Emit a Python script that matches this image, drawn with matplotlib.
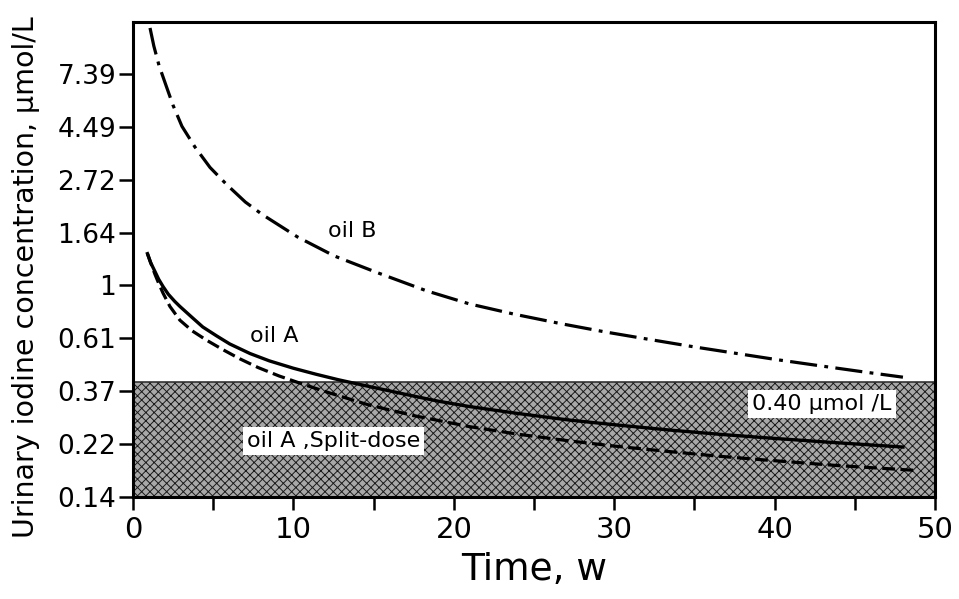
import numpy as np
import matplotlib
matplotlib.use("Agg")
import matplotlib.pyplot as plt
from matplotlib.ticker import FixedLocator, NullLocator, MultipleLocator

# ---- data ----
oilB_t = [1.06, 1.3, 1.62, 2.1, 2.49, 3.05, 3.86, 4.8, 5.85, 7.0, 8.08, 10.26,
          12.56, 15.2, 18.3, 20.96, 23.8, 26.7, 29.5, 32.2, 35.0, 37.6, 40.2,
          42.8, 45.6, 48.0]
oilB_c = [11.4, 9.6, 8.0, 6.5, 5.5, 4.5, 3.7, 3.05, 2.59, 2.20, 1.95, 1.58,
          1.32, 1.13, 0.95, 0.84, 0.761, 0.696, 0.643, 0.600, 0.559, 0.526, 0.495,
          0.468, 0.441, 0.420]

oilA_t = [0.9, 1.1, 1.37, 1.6, 1.87, 2.2, 2.6, 2.92, 3.67, 4.35, 5.22, 6.03, 7.3,
          8.5, 10.0, 11.4, 12.8, 14.3, 17.0, 19.0, 21.0, 24.0, 27.2, 30.0, 33.4,
          36.5, 39.4, 43.0, 48.0]
oilA_c = [1.35, 1.24, 1.14, 1.06, 0.99, 0.92, 0.86, 0.82, 0.74, 0.675, 0.62, 0.575,
          0.525, 0.49, 0.457, 0.432, 0.41, 0.39, 0.357, 0.335, 0.318, 0.298, 0.28,
          0.268, 0.255, 0.245, 0.237, 0.228, 0.217]

split_t = [0.9, 1.1, 1.37, 1.6, 1.87, 2.3, 2.92, 3.7, 4.6, 5.6, 6.65, 7.8, 9.1,
           10.6, 12.25, 14.7, 17.5, 21.0, 24.0, 27.2, 30.0, 33.4, 36.5, 39.4,
           44.0, 48.8]
split_c = [1.35, 1.24, 1.11, 1.02, 0.93, 0.82, 0.72, 0.65, 0.595, 0.545, 0.50,
           0.46, 0.425, 0.393, 0.362, 0.323, 0.292, 0.263, 0.245, 0.23, 0.219,
           0.208, 0.199, 0.192, 0.182, 0.174]

threshold = 0.40
ytick_vals = [np.exp(k) for k in [-2, -1.5, -1, -0.5, 0, 0.5, 1, 1.5, 2]]
ytick_labels = ["0.14", "0.22", "0.37", "0.61", "1", "1.64", "2.72", "4.49", "7.39"]
xtick_major = [0, 10, 20, 30, 40, 50]

plt.rcParams["font.family"] = ["DejaVu Sans"]
plt.rcParams["hatch.linewidth"] = 0.7

fig = plt.figure(figsize=(9.59, 5.99), dpi=100)
ax = fig.add_axes([0.1387, 0.1703, 0.975 - 0.1387, 0.9633 - 0.1703])
ax.set_yscale("log")
ax.set_xlim(0, 50)
ax.set_ylim(np.exp(-2), np.exp(2.49))

# shaded band below the 0.40 umol/L threshold
ax.fill_between([0, 50], np.exp(-2), threshold, facecolor="#a8a8a8",
                edgecolor="#1a1a1a", hatch="xxxx", linewidth=0, zorder=1)
ax.plot([0, 50], [threshold, threshold], color="#333333", lw=1.2, zorder=1.5)

ax.plot(oilB_t, oilB_c, color="black", lw=2.3, dashes=(8.5, 2.3, 1.2, 2.3),
        zorder=3)
ax.plot(oilA_t, oilA_c, color="black", lw=2.4, zorder=3)
ax.plot(split_t, split_c, color="black", lw=2.3, dashes=(4, 1.7), zorder=3)

afs = 16
ax.text(13.65, 1.67, "oil B", fontsize=afs, ha="center", va="center")
ax.text(8.8, 0.62, "oil A", fontsize=afs, ha="center", va="center")
ax.text(12.5, 0.23, "oil A ,Split-dose", fontsize=afs, ha="center", va="center",
        bbox=dict(facecolor="white", edgecolor="none", pad=3), zorder=4)
ax.text(42.95, 0.326, "0.40 \u00b5mol /L", fontsize=afs, ha="center",
        va="center", bbox=dict(facecolor="white", edgecolor="none", pad=3),
        zorder=4)

ax.yaxis.set_major_locator(FixedLocator(ytick_vals))
ax.set_yticklabels(ytick_labels)
ax.yaxis.set_minor_locator(NullLocator())
ax.xaxis.set_major_locator(FixedLocator(xtick_major))
ax.xaxis.set_minor_locator(MultipleLocator(5))

ax.tick_params(axis="y", which="both", direction="out", length=10, width=1.8,
               labelsize=19, pad=2)
ax.tick_params(axis="x", which="both", direction="out", length=9.5, width=1.8,
               labelsize=21, pad=4)
for s in ax.spines.values():
    s.set_linewidth(2.2)

ax.set_xlabel("Time, w", fontsize=27, labelpad=6)
ax.set_ylabel("Urinary iodine concentration, \u00b5mol/L", fontsize=20.5)
ax.yaxis.set_label_coords(-0.116, 0.463)

fig.savefig("out.png", dpi=100)
